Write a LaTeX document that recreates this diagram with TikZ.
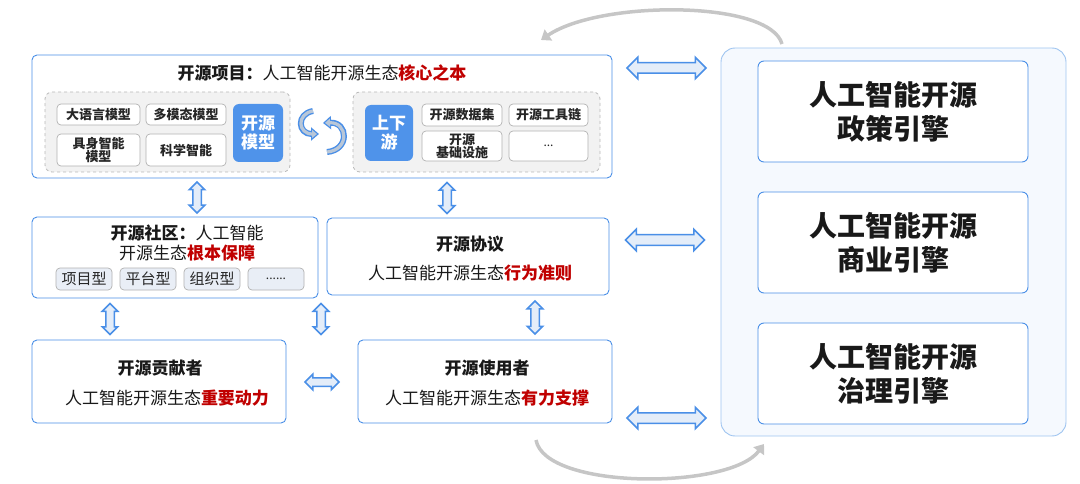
\documentclass[tikz,border=0pt]{standalone}
\usepackage{fontspec}
\setmainfont{Noto Sans CJK SC}
\usetikzlibrary{shapes.arrows,arrows.meta}
\definecolor{bord}{HTML}{4A8FE7}
\definecolor{bordlt}{HTML}{9EC4F0}
\definecolor{contfill}{HTML}{F5F9FE}
\definecolor{bluefill}{HTML}{4F93EA}
\definecolor{arrfill}{HTML}{E4EDF9}
\definecolor{redtxt}{HTML}{C00000}
\definecolor{tagfill}{HTML}{E9EEF6}
\definecolor{grpfill}{HTML}{F2F2F2}
\definecolor{cycblue}{HTML}{4A8FE7}
\definecolor{cycin}{HTML}{B9C7D8}
\newcommand{\fs}[1]{\fontsize{#1}{#1}\selectfont}
\newcommand{\rb}[1]{\textcolor{redtxt}{\bfseries #1}}
\begin{document}
\begin{tikzpicture}[x=1pt,y=-1pt,
  mainbox/.style={draw=bord,line width=0.9pt,rounded corners=5pt,fill=white,inner sep=0pt},
  grp/.style={draw=gray!55,dashed,line width=0.8pt,fill=grpfill,rounded corners=7pt,inner sep=0pt},
  tag/.style={draw=gray!60,line width=0.7pt,rounded corners=4pt,fill=white,inner sep=0pt,align=center,font=\fs{13}\bfseries,text=black!85},
  ctag/.style={draw=gray!60,line width=0.7pt,rounded corners=4pt,fill=tagfill,inner sep=0pt,align=center,font=\fs{15},text=black!85},
  bluebox/.style={fill=bluefill,rounded corners=6pt,inner sep=0pt,align=center,text=white,font=\fs{17}\bfseries},
  engine/.style={draw=bord,line width=0.9pt,rounded corners=6pt,fill=white,inner sep=0pt,align=center,font=\fs{28}\bfseries,text=black!90},
  txt/.style={inner sep=0pt,align=center,font=\fs{17},text=black!90},
  dbl/.style={double arrow,draw=bord,line width=1.5pt,fill=arrfill,inner sep=3.5pt,minimum width=0pt,double arrow head extend=3.5pt,double arrow head indent=0pt},
  dblh/.style={dbl,inner sep=4.5pt,double arrow head extend=5.5pt},
  dblv/.style={dbl,shape border rotate=90},
  cycout/.style={line width=6pt,draw=cycblue,-{Triangle[length=8pt,width=13pt]}},
  cycinn/.style={line width=3.2pt,draw=cycin,shorten >=2pt,-{Triangle[length=5pt,width=8pt]}},
  gcurve/.style={line width=3.5pt,draw=gray!45,-{Triangle[length=9pt,width=13pt]}}
]
\useasboundingbox (0,0) rectangle (1080,484);

% right container
\node[draw=bordlt,line width=0.9pt,fill=contfill,rounded corners=14pt,minimum width=345pt,minimum height=388pt,inner sep=0pt] (cont) at (893.5,242) {};
\node[engine,minimum width=270pt,minimum height=101pt] (e1) at (893,111.5) {人工智能开源\\[6pt]政策引擎};
\node[engine,minimum width=270pt,minimum height=101pt] (e2) at (893,242.5) {人工智能开源\\[6pt]商业引擎};
\node[engine,minimum width=270pt,minimum height=101pt] (e3) at (893,373.5) {人工智能开源\\[6pt]治理引擎};

% top project box
\node[mainbox,minimum width=580pt,minimum height=123pt] (proj) at (322,116.5) {};
\node[txt] (projt) at (322,73) {\bfseries 开源项目：\mdseries 人工智能开源生态\rb{核心之本}};
\node[grp,minimum width=245pt,minimum height=80pt] (g1) at (167.5,132) {};
\node[tag,minimum width=83pt,minimum height=21pt] (t1) at (98.5,114.5) {大语言模型};
\node[tag,minimum width=80pt,minimum height=21pt] (t2) at (186,114.5) {多模态模型};
\node[tag,minimum width=83pt,minimum height=32pt,font=\fs{13}\bfseries\linespread{0.9}\selectfont] (t3) at (98.5,150) {具身智能\\模型};
\node[tag,minimum width=80pt,minimum height=32pt] (t4) at (186,150) {科学智能};
\node[bluebox,minimum width=50pt,minimum height=58pt] (m1) at (258,133) {开源\\[2pt]模型};

\node[grp,minimum width=247pt,minimum height=80pt] (g2) at (476.5,132) {};
\node[bluebox,minimum width=48pt,minimum height=56pt] (m2) at (389,133) {上下\\[2pt]游};
\node[tag,minimum width=80pt,minimum height=22pt] (t5) at (462,115) {开源数据集};
\node[tag,minimum width=79pt,minimum height=22pt] (t6) at (548.5,115) {开源工具链};
\node[tag,minimum width=80pt,minimum height=30pt,font=\fs{13}\bfseries\linespread{0.85}\selectfont] (t7) at (462,146) {开源\\基础设施};
\node[tag,minimum width=79pt,minimum height=30pt,font=\fs{12}] (t8) at (548.5,146) {...};

% cycle arrows
\coordinate (c1a) at (313,111);
\coordinate (c1b) at (319,134);
\coordinate (c2a) at (327,152);
\coordinate (c2b) at (323,123);
\draw[cycout] (c1a) .. controls (296,114) and (298,134) .. (c1b);
\draw[cycinn] (c1a) .. controls (296,114) and (298,134) .. (c1b);
\draw[cycout] (c2a) .. controls (350,150) and (348,122) .. (c2b);
\draw[cycinn] (c2a) .. controls (350,150) and (348,122) .. (c2b);

% community
\node[mainbox,minimum width=286pt,minimum height=81pt] (comm) at (175,257.5) {};
\node[txt] (commt1) at (187,233) {\bfseries 开源社区：\mdseries 人工智能};
\node[txt] (commt2) at (187,253) {开源生态\rb{根本保障}};
\node[ctag,minimum width=56pt,minimum height=22pt] (k1) at (84,279) {项目型};
\node[ctag,minimum width=56pt,minimum height=22pt] (k2) at (148,279) {平台型};
\node[ctag,minimum width=56pt,minimum height=22pt] (k3) at (212,279) {组织型};
\node[ctag,minimum width=56pt,minimum height=22pt,font=\fs{12}] (k4) at (276,279) {......};

% protocol
\node[mainbox,minimum width=282pt,minimum height=77pt] (prot) at (468,256.5) {};
\node[txt,font=\fs{17}\bfseries] (prott1) at (470,244) {开源协议};
\node[txt] (prott2) at (470,273) {人工智能开源生态\rb{行为准则}};

% contributor
\node[mainbox,minimum width=254pt,minimum height=83pt] (contr) at (159,381.5) {};
\node[txt,font=\fs{17}\bfseries] (contrt1) at (160,368) {开源贡献者};
\node[txt] (contrt2) at (167,398) {人工智能开源生态\rb{重要动力}};

% user
\node[mainbox,minimum width=254pt,minimum height=83pt] (user) at (485,381.5) {};
\node[txt,font=\fs{17}\bfseries] (usert1) at (487,368) {开源使用者};
\node[txt] (usert2) at (487,398) {人工智能开源生态\rb{有力支撑}};

% double arrows
\path (proj.south -| 197,0) -- (comm.north -| 197,0) node[midway,dblv,minimum height=31pt] (a1) {};
\path (proj.south -| 447,0) -- (prot.north -| 447,0) node[midway,dblv,minimum height=31pt] (a2) {};
\path (comm.south -| 110,0) -- (contr.north -| 110,0) node[midway,dblv,minimum height=31pt] (a3) {};
\path (comm.south -| 321,0) -- (user.north -| 321,0) node[midway,dblv,minimum height=31pt] (a4) {};
\path (prot.south -| 535,0) -- (user.north -| 535,0) node[midway,dblv,minimum height=33pt] (a5) {};
\path (contr.east |- 0,382) -- (user.west |- 0,382) node[midway,dbl,minimum height=34pt] (a6) {};
\path (proj.east |- 0,68) -- (cont.west |- 0,68) node[midway,dblh,minimum height=79pt] (a7) {};
\path (prot.east |- 0,240) -- (cont.west |- 0,240) node[midway,dblh,minimum height=79pt] (a8) {};
\path (user.east |- 0,418) -- (cont.west |- 0,418) node[midway,dblh,minimum height=79pt] (a9) {};

% gray curves
\coordinate (gt1) at (782,44);
\coordinate (gt2) at (541,40);
\coordinate (gb1) at (536,440);
\coordinate (gb2) at (764,444);
\draw[gcurve] (gt1) .. controls (770,0) and (600,0) .. (gt2);
\draw[gcurve] (gb1) .. controls (545,490) and (730,490) .. (gb2);
\end{tikzpicture}
\end{document}
